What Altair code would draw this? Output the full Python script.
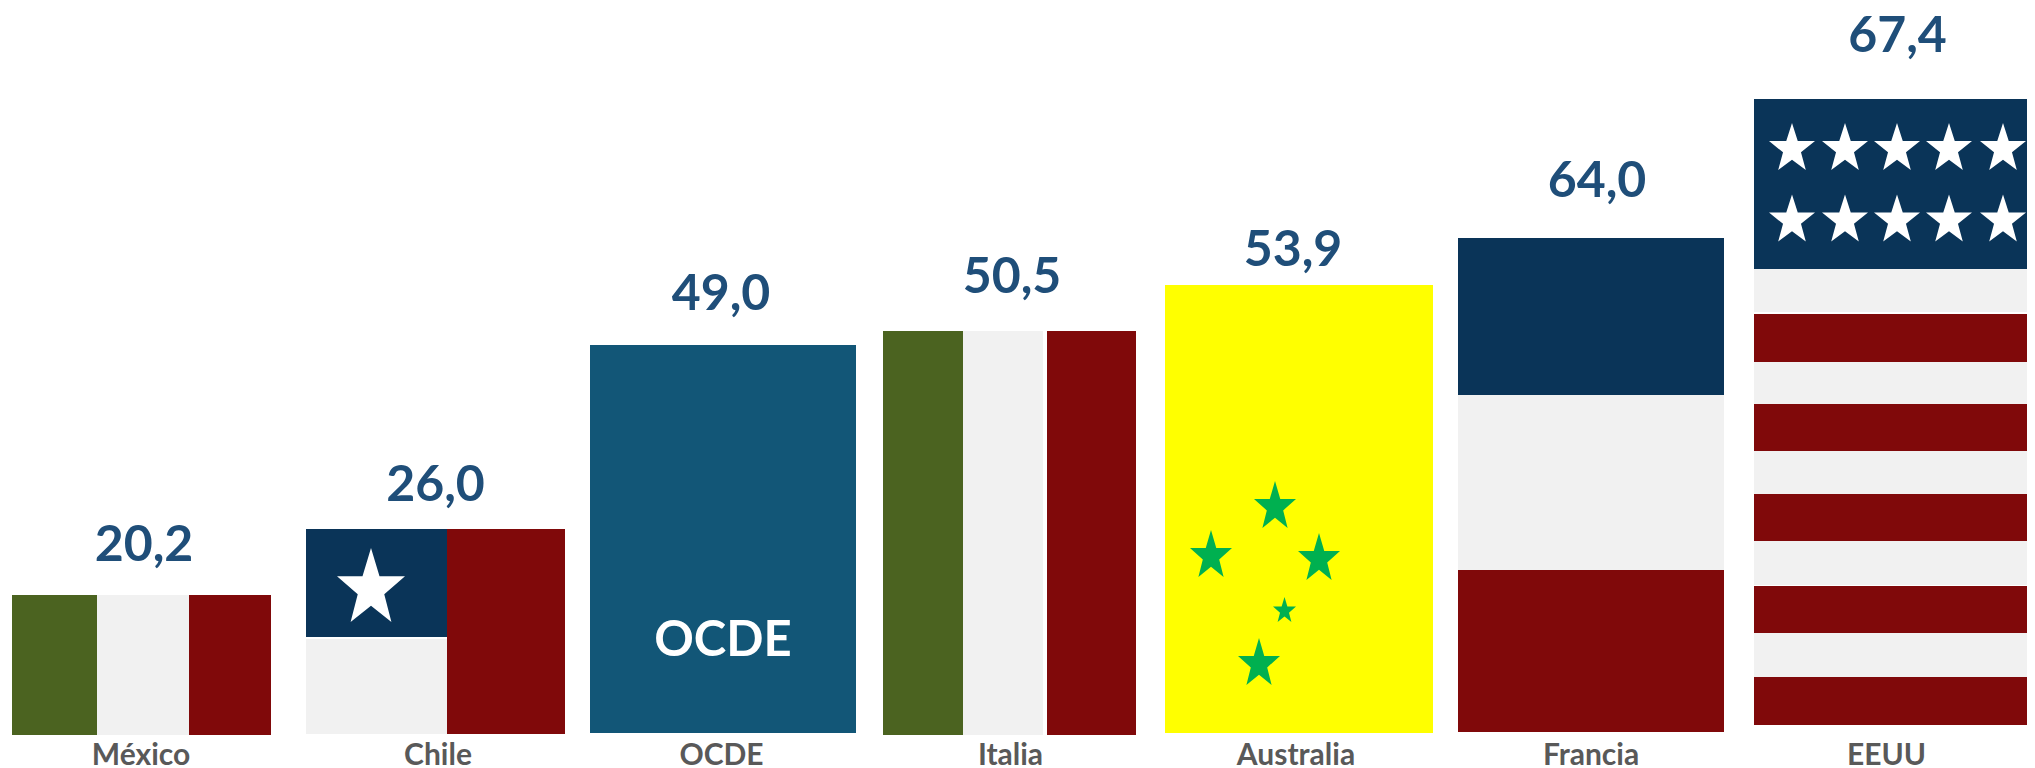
import altair as alt
import pandas as pd

# Country labels, values and where each reading sits on the picture
paises = ["México", "Chile", "OCDE", "Italia", "Australia", "Francia", "EEUU"]
valores = [20.2, 26.0, 49.0, 50.5, 53.9, 64.0, 67.4]
centro_valor = [144, 435.5, 721, 1012, 1293, 1597, 1897.5]
linea_valor = [561, 501, 310, 293, 266, 197, 52]
centro_pais = [141, 438, 721.5, 1010.5, 1296, 1591, 1886.5]

# Flag stripes: one entry per rectangle
seg_color = ["verde", "gris", "rojo",
             "azul", "gris", "rojo",
             "teal",
             "verde", "gris", "rojo",
             "amarillo",
             "azul", "gris", "rojo",
             "azul", "gris", "rojo", "gris", "rojo", "gris", "rojo", "gris", "rojo", "gris", "rojo"]
seg_x0 = [12, 97, 189,
          306, 306, 447,
          590,
          883, 963, 1047,
          1165,
          1458, 1458, 1458,
          1754, 1754, 1754, 1754, 1754, 1754, 1754, 1754, 1754, 1754, 1754]
seg_x1 = [97, 189, 271,
          447, 447, 565,
          856,
          963, 1043, 1136,
          1433,
          1724, 1724, 1724,
          2027, 2027, 2027, 2027, 2027, 2027, 2027, 2027, 2027, 2027, 2027]
seg_y0 = [595, 595, 595,
          529, 639, 529,
          345,
          331, 331, 331,
          285,
          238, 395, 570,
          99, 269, 314, 362, 404, 451, 494, 541, 586, 633, 677]
seg_y1 = [735, 735, 735,
          637, 734, 734,
          733,
          735, 735, 735,
          733,
          395, 570, 732,
          269, 312, 362, 404, 451, 494, 541, 585, 633, 677, 725]

colores = ["verde", "gris", "rojo", "azul", "teal", "amarillo"]
colores_hex = ["#4B6320", "#F1F1F1", "#80090A", "#0A3458", "#125677", "#FFFF00"]

# Stars
chile_x, chile_y = [371], [585]
eeuu_x = [1792, 1845, 1897, 1949, 2003] * 2
eeuu_y = [146.5] * 5 + [218] * 5
aus_x = [1275, 1211, 1319, 1259]
aus_y = [504.5, 553.5, 556.5, 661.5]
aus_chica_x, aus_chica_y = [1284.5], [609.5]

W, H = 2019, 760
esc_x = alt.Scale(domain=[8, 2027], range=[0, W], nice=False, zero=False)
esc_y = alt.Scale(domain=[8, 768], reverse=True, nice=False, zero=False)


def estrella(alto):
    pts = [(0, -1), (0.25, -0.234), (1, -0.234), (0.39, 0.25), (0.6, 1), (0, 0.56),
           (-0.6, 1), (-0.39, 0.25), (-1, -0.234), (-0.25, -0.234)]
    return "M" + " L".join(f"{x},{y * alto:.3f}" for x, y in pts) + " Z"


def capa_estrellas(xs, ys, ancho, alto, color):
    d = pd.DataFrame({"x": xs, "y": ys})
    return alt.Chart(d).mark_point(
        shape=estrella(alto / ancho), size=ancho ** 2, filled=True, color=color, opacity=1, strokeWidth=0
    ).encode(
        x=alt.X("x:Q", scale=esc_x, axis=None),
        y=alt.Y("y:Q", scale=esc_y, axis=None),
    )


franjas = alt.Chart(pd.DataFrame({
    "c": seg_color, "x0": seg_x0, "x1": seg_x1, "y0": seg_y0, "y1": seg_y1
})).mark_rect().encode(
    x=alt.X("x0:Q", scale=esc_x, axis=None),
    x2="x1:Q",
    y=alt.Y("y0:Q", scale=esc_y, axis=None),
    y2="y1:Q",
    color=alt.Color("c:N", scale=alt.Scale(domain=colores, range=colores_hex), legend=None),
)

etq_valor = alt.Chart(pd.DataFrame({
    "t": [f"{v:.1f}".replace(".", ",") for v in valores], "x": centro_valor, "y": linea_valor
})).mark_text(
    font="Lato", fontSize=50, fontWeight="bold", color="#1F4E79", align="center", baseline="alphabetic"
).encode(x=alt.X("x:Q", scale=esc_x, axis=None), y=alt.Y("y:Q", scale=esc_y, axis=None), text="t:N")

etq_pais = alt.Chart(pd.DataFrame({
    "t": paises, "x": centro_pais, "y": [765] * len(paises)
})).mark_text(
    font="Lato", fontSize=30, fontWeight="bold", color="#595959", align="center", baseline="alphabetic"
).encode(x=alt.X("x:Q", scale=esc_x, axis=None), y=alt.Y("y:Q", scale=esc_y, axis=None), text="t:N")

etq_ocde = alt.Chart(pd.DataFrame({"t": ["OCDE"], "x": [723], "y": [656]})).mark_text(
    font="Lato", fontSize=49, fontWeight="bold", color="#FFFFFF", align="center", baseline="alphabetic"
).encode(x=alt.X("x:Q", scale=esc_x, axis=None), y=alt.Y("y:Q", scale=esc_y, axis=None), text="t:N")

chart = alt.layer(
    franjas,
    capa_estrellas(chile_x, chile_y, 68, 74, "#FFFFFF"),
    capa_estrellas(eeuu_x, eeuu_y, 46, 47, "#FFFFFF"),
    capa_estrellas(aus_x, aus_y, 42, 47, "#00B050"),
    capa_estrellas(aus_chica_x, aus_chica_y, 23, 25, "#00B050"),
    etq_valor, etq_pais, etq_ocde,
).properties(
    width=W, height=H, padding=0, autosize=alt.AutoSizeParams(type="none"), background="#FFFFFF"
).configure_view(stroke=None)

chart.save("out.html", embed_options={"renderer": "svg", "actions": False})
